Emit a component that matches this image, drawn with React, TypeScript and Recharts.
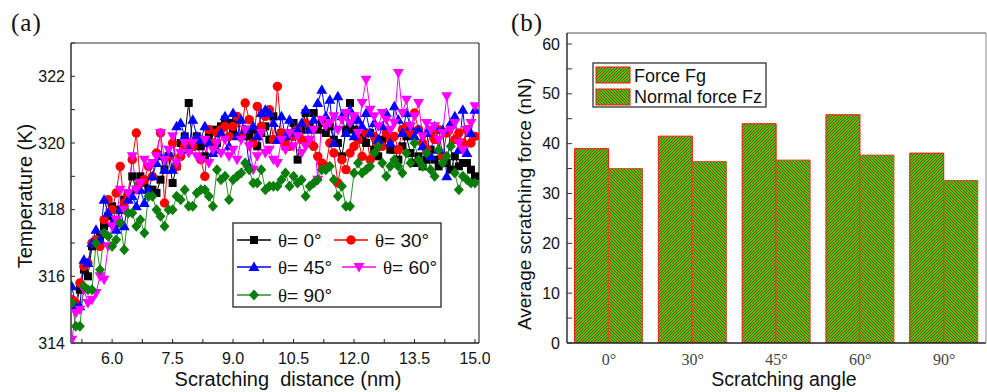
import React from "react";
import { LineChart, Line, BarChart, Bar, XAxis, YAxis } from "recharts";

// ---- panel (a): temperature vs scratching distance ----
const distance = [
  5.0, 5.1, 5.2, 5.3, 5.4, 5.5, 5.6, 5.7, 5.8, 5.9,
  6.0, 6.1, 6.2, 6.3, 6.4, 6.5, 6.6, 6.7, 6.8, 6.9,
  7.0, 7.1, 7.2, 7.3, 7.4, 7.5, 7.6, 7.7, 7.8, 7.9,
  8.0, 8.1, 8.2, 8.3, 8.4, 8.5, 8.6, 8.7, 8.8, 8.9,
  9.0, 9.1, 9.2, 9.3, 9.4, 9.5, 9.6, 9.7, 9.8, 9.9,
  10.0, 10.1, 10.2, 10.3, 10.4, 10.5, 10.6, 10.7, 10.8, 10.9,
  11.0, 11.1, 11.2, 11.3, 11.4, 11.5, 11.6, 11.7, 11.8, 11.9,
  12.0, 12.1, 12.2, 12.3, 12.4, 12.5, 12.6, 12.7, 12.8, 12.9,
  13.0, 13.1, 13.2, 13.3, 13.4, 13.5, 13.6, 13.7, 13.8, 13.9,
  14.0, 14.1, 14.2, 14.3, 14.4, 14.5, 14.6, 14.7, 14.8, 14.9,
  15.0,
];

const temp0 = [
  315.2, 315.1, 315.6, 316.2, 316.0, 316.9, 317.0, 317.2, 317.5, 317.8,
  318.1, 317.6, 318.0, 318.3, 318.5, 319.0, 318.6, 319.0, 318.8, 318.6,
  318.6, 318.5, 318.9, 319.2, 319.6, 318.8, 319.3, 320.0, 320.2, 321.2,
  319.9, 320.2, 319.9, 319.6, 320.2, 320.4, 320.0, 320.5, 320.7, 320.6,
  320.3, 320.7, 320.2, 320.4, 320.2, 320.4, 319.9, 320.3, 320.5, 320.1,
  320.8, 320.1, 320.3, 319.9, 320.2, 320.6, 319.5, 320.4, 320.9, 320.5,
  320.9, 320.4, 320.6, 320.3, 320.5, 320.1, 320.0, 319.6, 320.4, 321.2,
  320.4, 320.1, 320.2, 320.0, 320.3, 319.8, 319.6, 320.1, 320.2, 319.8,
  319.8, 319.5, 319.9, 320.2, 319.7, 319.4, 319.6, 319.3, 319.5, 319.8,
  319.5, 319.3, 319.6, 319.4, 319.2, 319.6, 319.3, 319.4, 319.4, 319.2,
  319.0,
];

const temp30 = [
  315.3, 315.2, 315.8, 316.3, 316.4, 317.0, 317.1, 316.9, 317.7, 318.3,
  318.0, 318.5, 319.3, 318.2, 318.4, 319.5, 320.3, 318.8, 318.9, 319.3,
  319.0, 319.7, 320.3, 318.2, 319.6, 320.0, 319.3, 319.6, 319.9, 320.0,
  319.9, 320.1, 319.5, 319.0, 320.4, 320.0, 320.3, 320.4, 320.5, 320.2,
  320.5, 320.8, 320.2, 321.2, 320.7, 320.0, 321.1, 320.5, 320.8, 321.0,
  320.1, 321.7, 320.3, 320.0, 319.9, 320.2, 320.4, 320.1, 320.6, 320.0,
  319.9, 319.6, 319.4, 319.3, 320.0, 319.7, 318.8, 319.5, 319.2, 319.7,
  319.9, 320.1, 319.6, 320.3, 319.5, 320.2, 320.0, 319.9, 320.3, 320.1,
  320.2, 319.8, 320.4, 320.5, 320.3, 320.9, 320.4, 320.0, 319.8, 320.3,
  320.1, 320.4, 319.6, 320.3, 320.5, 320.1, 320.3, 320.0, 320.4, 320.0,
  320.2,
];

const temp45 = [
  315.7, 315.1, 315.1, 316.5, 316.4, 317.0, 317.4, 317.1, 318.3, 317.9,
  317.6, 317.4, 318.0, 317.5, 318.3, 318.4, 318.1, 318.6, 318.2, 318.6,
  319.0, 319.4, 319.6, 319.2, 319.7, 319.2, 320.5, 320.6, 320.2, 319.8,
  320.7, 320.2, 320.1, 320.5, 320.0, 319.7, 319.8, 320.3, 320.8, 319.9,
  320.9, 320.2, 320.7, 320.4, 319.3, 320.5, 320.2, 320.9, 321.0, 320.9,
  320.6, 320.1, 320.8, 320.2, 320.7, 320.3, 320.4, 320.6, 321.0, 320.4,
  320.7, 321.2, 321.6, 320.8, 321.3, 320.0, 321.4, 320.8, 320.3, 321.0,
  320.2, 320.7, 320.5, 320.9, 320.3, 320.6, 320.1, 320.5, 320.9, 320.0,
  321.1, 320.7, 320.3, 320.9, 320.5, 320.2, 320.4, 319.9, 320.3, 319.6,
  320.5, 319.8, 320.4, 319.0, 320.6, 320.8, 319.8, 321.0, 319.7, 320.3,
  321.0,
];

const temp60 = [
  314.1, 314.9, 315.0, 315.6, 315.2, 315.3, 315.5, 316.0, 315.9, 316.9,
  317.5, 317.7, 318.6, 318.0, 318.5, 319.6, 318.6, 318.8, 319.5, 319.3,
  319.4, 319.6, 320.3, 319.5, 319.8, 320.2, 319.4, 319.7, 320.0, 319.7,
  320.0, 319.6, 319.5, 320.1, 319.4, 319.8, 320.0, 319.7, 320.1, 319.6,
  319.8, 319.5, 320.1, 320.4, 319.9, 319.2, 319.6, 320.3, 319.7, 319.8,
  319.5, 319.4, 320.1, 319.8, 320.3, 319.9, 320.2, 319.7, 319.9, 320.1,
  320.4, 318.9, 320.7, 320.5, 320.6, 320.8, 320.4, 320.7, 320.9, 320.6,
  320.8, 320.3, 321.2, 321.9, 321.0, 320.8, 320.5, 320.9, 320.7, 320.4,
  320.6, 322.1, 320.9, 321.3, 320.5, 320.8, 321.2, 320.2, 320.6, 320.4,
  320.5, 320.1, 320.3, 321.4, 320.4, 320.6, 320.0, 319.8, 320.4, 320.6,
  321.1,
];

const temp90 = [
  315.2, 314.5, 314.5, 315.7, 315.6, 315.6, 317.0, 316.2, 317.3, 317.2,
  316.9, 317.1, 317.6, 316.8, 317.9, 317.9, 317.5, 317.7, 317.3, 318.4,
  318.4, 318.0, 317.8, 317.5, 318.0, 318.0, 318.4, 318.3, 318.6, 318.1,
  318.1, 318.5, 318.6, 318.6, 318.4, 318.1, 319.2, 318.9, 319.0, 318.3,
  318.9, 319.0, 319.1, 319.4, 319.2, 318.8, 318.8, 319.2, 318.6, 318.7,
  318.7, 318.7, 318.9, 319.1, 318.7, 319.0, 318.8, 318.9, 318.4, 318.7,
  318.8, 318.9, 319.2, 319.2, 319.3, 318.9, 318.4, 318.7, 318.1, 318.1,
  319.1, 319.4, 319.1, 319.2, 319.3, 319.7, 319.9, 319.4, 319.0, 319.3,
  319.5, 319.3, 319.1, 319.7, 319.4, 320.0, 319.5, 319.3, 319.7, 319.2,
  319.0, 319.8, 319.4, 319.6, 319.9, 319.1, 318.6, 319.0, 318.9, 318.8,
  318.8,
];

const xTicksA = [5.25, 6, 6.75, 7.5, 8.25, 9, 9.75, 10.5, 11.25, 12, 12.75, 13.5, 14.25, 15];
const xMajorA = [6, 7.5, 9, 10.5, 12, 13.5, 15];
const yTicksA = [314, 315, 316, 317, 318, 319, 320, 321, 322, 323];
const yMajorA = [314, 316, 318, 320, 322];

// ---- panel (b): average scratching force ----
const angles = ["0°", "30°", "45°", "60°", "90°"];
const forceFg = [39.0, 41.5, 44.0, 45.8, 38.1];
const forceFz = [35.0, 36.4, 36.7, 37.7, 32.6];
const yTicksB = [0, 5, 10, 15, 20, 25, 30, 35, 40, 45, 50, 55, 60];

const rowsA = distance.map((d, i) => ({
  d,
  t0: temp0[i],
  t30: temp30[i],
  t45: temp45[i],
  t60: temp60[i],
  t90: temp90[i],
}));

const rowsB = angles.map((a, i) => ({ angle: a, fg: forceFg[i], fz: forceFz[i] }));

const SANS = "'Liberation Sans', Arial, sans-serif";
const SERIF = "'Liberation Serif', 'Times New Roman', serif";

type Shape = "square" | "circle" | "up" | "down" | "diamond";

function Marker({ shape, color, cx, cy }: { shape: Shape; color: string; cx: number; cy: number }) {
  if (shape === "square") return <rect x={cx - 4} y={cy - 4} width={8} height={8} fill={color} />;
  if (shape === "circle") return <circle cx={cx} cy={cy} r={4.7} fill={color} />;
  if (shape === "up")
    return <polygon points={`${cx},${cy - 5.5} ${cx + 5.5},${cy + 4} ${cx - 5.5},${cy + 4}`} fill={color} />;
  if (shape === "down")
    return <polygon points={`${cx},${cy + 5.5} ${cx + 5.5},${cy - 4} ${cx - 5.5},${cy - 4}`} fill={color} />;
  return <polygon points={`${cx},${cy - 5.5} ${cx + 5},${cy} ${cx},${cy + 5.5} ${cx - 5},${cy}`} fill={color} />;
}

const mkDot = (shape: Shape, color: string) => (p: any) => {
  if (p.cx == null || p.cy == null) return <g key={`${shape}-${p.index}`} />;
  return (
    <g key={`${shape}-${p.index}`}>
      <Marker shape={shape} color={color} cx={p.cx} cy={p.cy} />
    </g>
  );
};

const seriesA: { key: string; shape: Shape; color: string; line: string; label: string }[] = [
  { key: "t0", shape: "square", color: "#000000", line: "#000000", label: "0°" },
  { key: "t30", shape: "circle", color: "#ff0000", line: "#ff0000", label: "30°" },
  { key: "t45", shape: "up", color: "#0000ff", line: "#0000ff", label: "45°" },
  { key: "t60", shape: "down", color: "#ff00ff", line: "#ff00ff", label: "60°" },
  { key: "t90", shape: "diamond", color: "#0b7d0b", line: "#2a8f2a", label: "90°" },
];

// pixel-aligned hatch tiles (3px period: 1px red, 2px green)
const tileCells = [0, 1, 2];
function HatchPattern({ id, dir }: { id: string; dir: 1 | -1 }) {
  const cells: React.ReactNode[] = [];
  tileCells.forEach((y) =>
    tileCells.forEach((x) => {
      const k = (((x + dir * y) % 3) + 3) % 3;
      if (k === 0) cells.push(<rect key={`${x}-${y}`} x={x} y={y} width={1} height={1} fill="#f01400" />);
    })
  );
  return (
    <pattern id={id} width={3} height={3} patternUnits="userSpaceOnUse">
      <rect width={3} height={3} fill="#14dc14" />
      <g shapeRendering="crispEdges">{cells}</g>
    </pattern>
  );
}

function LegendItem({ x, y, s, text }: { x: number; y: number; s: (typeof seriesA)[number]; text: string }) {
  return (
    <g>
      <line x1={x} x2={x + 34} y1={y} y2={y} stroke={s.line} strokeWidth={1.3} />
      <Marker shape={s.shape} color={s.color} cx={x + 17} cy={y} />
      <text x={x + 41} y={y + 7} fontSize={19} fontFamily={SANS} fill="#111">
        <tspan fontFamily={SERIF}>θ</tspan>= {text}
      </text>
    </g>
  );
}

export default function App() {
  return (
    <div style={{ position: "absolute", left: 0, top: 0, width: 987, height: 392, background: "#fff", overflow: "hidden" }}>
      <div style={{ position: "absolute", left: 0, top: 0 }}>
        <LineChart width={490} height={392} data={rowsA} margin={{ top: 42, right: 10, bottom: 0, left: 0 }}>
          <XAxis
            dataKey="d"
            type="number"
            domain={[4.98, 15.1]}
            allowDataOverflow
            ticks={xTicksA}
            interval={0}
            tickFormatter={(v: number) => (xMajorA.includes(v) ? v.toFixed(1) : "")}
            height={49}
            tickSize={-4}
            tickMargin={14}
            axisLine={{ stroke: "#222", strokeWidth: 1.4 }}
            tickLine={{ stroke: "#222" }}
            tick={{ fill: "#111", fontSize: 16, fontFamily: SANS }}
          />
          <XAxis
            xAxisId="top"
            orientation="top"
            dataKey="d"
            type="number"
            domain={[4.98, 15.1]}
            allowDataOverflow
            ticks={xTicksA}
            interval={0}
            height={1}
            tick={false}
            tickSize={-4}
            axisLine={{ stroke: "#333", strokeWidth: 1.2 }}
            tickLine={{ stroke: "#333" }}
          />
          <YAxis
            type="number"
            domain={[314, 323]}
            allowDataOverflow
            ticks={yTicksA}
            interval={0}
            tickFormatter={(v: number) => (yMajorA.includes(v) ? String(v) : "")}
            width={71}
            tickSize={-4}
            tickMargin={10}
            axisLine={{ stroke: "#222", strokeWidth: 1.4 }}
            tickLine={{ stroke: "#222" }}
            tick={{ fill: "#111", fontSize: 16, fontFamily: SANS }}
          />
          <YAxis
            yAxisId="right"
            orientation="right"
            type="number"
            domain={[314, 323]}
            allowDataOverflow
            ticks={yTicksA}
            interval={0}
            width={1}
            tick={false}
            tickSize={-4}
            axisLine={{ stroke: "#333", strokeWidth: 1.2 }}
            tickLine={{ stroke: "#333" }}
          />
          {seriesA.map((s) => (
            <Line
              key={s.key}
              type="linear"
              dataKey={s.key}
              stroke={s.line}
              strokeWidth={1}
              dot={mkDot(s.shape, s.color)}
              activeDot={false}
              isAnimationActive={false}
            />
          ))}
        </LineChart>
      </div>

      <div style={{ position: "absolute", left: 500, top: 0 }}>
        <BarChart
          width={487}
          height={392}
          data={rowsB}
          margin={{ top: 32, right: 0, bottom: 0, left: 0 }}
          barCategoryGap="9%"
          barGap={0}
        >
          <XAxis
            dataKey="angle"
            height={49}
            tickLine={false}
            tickSize={0}
            tickMargin={11}
            axisLine={{ stroke: "#222", strokeWidth: 1.4 }}
            tick={{ fill: "#444", fontSize: 16, fontFamily: SERIF }}
          />
          <XAxis
            xAxisId="top"
            orientation="top"
            dataKey="angle"
            height={1}
            tick={false}
            tickLine={false}
            axisLine={{ stroke: "#555", strokeWidth: 1.2 }}
          />
          <YAxis
            type="number"
            domain={[0, 62.2]}
            allowDataOverflow
            ticks={yTicksB}
            interval={0}
            tickFormatter={(v: number) => (v % 10 === 0 ? String(v) : "")}
            width={67}
            tickSize={-5}
            tickMargin={12}
            axisLine={{ stroke: "#222", strokeWidth: 1.4 }}
            tickLine={{ stroke: "#333" }}
            tick={{ fill: "#111", fontSize: 16, fontFamily: SANS }}
          />
          <YAxis
            yAxisId="right"
            orientation="right"
            type="number"
            domain={[0, 62.2]}
            width={1}
            tick={false}
            tickLine={false}
            axisLine={{ stroke: "#999", strokeWidth: 1.2 }}
          />
          <Bar dataKey="fg" fill="url(#hatchFg)" stroke="#ff1500" strokeWidth={1} isAnimationActive={false} />
          <Bar dataKey="fz" fill="url(#hatchFz)" stroke="#d2502a" strokeWidth={1} isAnimationActive={false} />
        </BarChart>
      </div>

      <svg width={987} height={392} style={{ position: "absolute", left: 0, top: 0, pointerEvents: "none" }}>
        <defs>
          <HatchPattern id="hatchFg" dir={1} />
          <HatchPattern id="hatchFz" dir={-1} />
        </defs>

        {/* panel labels */}
        <text x={11} y={31} fontSize={25} fontFamily={SERIF} fill="#111" letterSpacing={1}>(a)</text>
        <text x={511} y={31} fontSize={25} fontFamily={SERIF} fill="#111" letterSpacing={1}>(b)</text>

        {/* axis titles (a) */}
        <text x={32} y={196} transform="rotate(-90 32 196)" textAnchor="middle" fontSize={20} fontFamily={SANS} fill="#111">
          Temperature (K)
        </text>
        <text x={288} y={386} textAnchor="middle" fontSize={20} fontFamily={SANS} fill="#111" style={{ whiteSpace: "pre" }}>
          {"Scratching  distance (nm)"}
        </text>

        {/* axis titles (b) */}
        <text x={531} y={204} transform="rotate(-90 531 204)" textAnchor="middle" fontSize={19} fontFamily={SANS} fill="#111">
          Average scratching force (nN)
        </text>
        <text x={784} y={386} textAnchor="middle" fontSize={19.5} fontFamily={SANS} fill="#111">
          Scratching angle
        </text>

        {/* legend (a) */}
        <rect x={233} y={223} width={208} height={84} fill="#fff" stroke="#333" strokeWidth={1.4} />
        <LegendItem x={237} y={240} s={seriesA[0]} text={seriesA[0].label} />
        <LegendItem x={334} y={240} s={seriesA[1]} text={seriesA[1].label} />
        <LegendItem x={237} y={267} s={seriesA[2]} text={seriesA[2].label} />
        <LegendItem x={342} y={267} s={seriesA[3]} text={seriesA[3].label} />
        <LegendItem x={237} y={295} s={seriesA[4]} text={seriesA[4].label} />

        {/* legend (b) */}
        <rect x={593} y={63} width={173} height={44} fill="#fff" stroke="#222" strokeWidth={1.2} />
        <rect x={596} y={67} width={34} height={16} fill="url(#hatchFg)" stroke="#ff1500" strokeWidth={1} />
        <rect x={596} y={89} width={34} height={16} fill="url(#hatchFz)" stroke="#ff1500" strokeWidth={1} />
        <text x={634} y={82} fontSize={18} fontFamily={SANS} fill="#111">Force Fg</text>
        <text x={634} y={103} fontSize={18} fontFamily={SANS} fill="#111">Normal force Fz</text>
      </svg>
    </div>
  );
}
